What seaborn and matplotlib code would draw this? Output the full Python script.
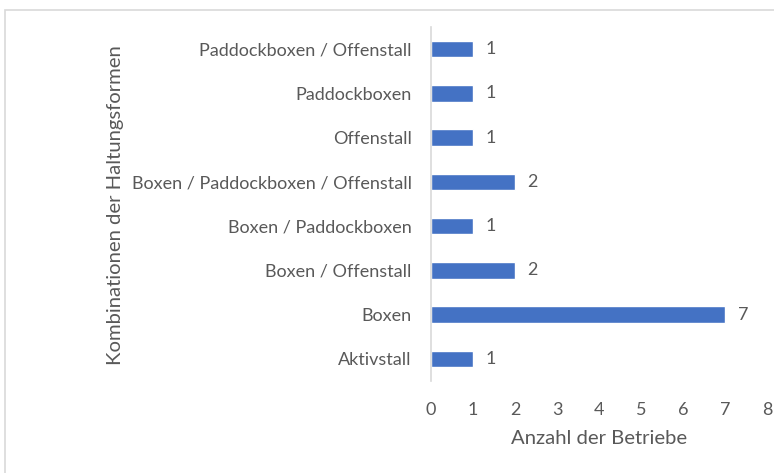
import matplotlib
matplotlib.use("Agg")
import matplotlib.pyplot as plt
import seaborn as sns
import pandas as pd
from matplotlib.patches import Rectangle

categories = ["Paddockboxen / Offenstall", "Paddockboxen", "Offenstall",
              "Boxen / Paddockboxen / Offenstall", "Boxen / Paddockboxen",
              "Boxen / Offenstall", "Boxen", "Aktivstall"]
values = [1, 1, 1, 2, 1, 2, 7, 1]
xticks = [0, 1, 2, 3, 4, 5, 6, 7, 8]

sns.set_theme(style="white")
plt.rcParams['font.family'] = ['Lato', 'DejaVu Sans']
txt = "#595959"
fs = 13
fs_title = 14.6

df = pd.DataFrame({"cat": categories, "val": values})
fig = plt.figure(figsize=(7.74, 4.73), dpi=100)
ax = fig.add_axes([0.557, 0.1945, 0.434, 0.7485])
sns.barplot(data=df, y="cat", x="val", order=categories, color="#4472C4",
            width=0.37, saturation=1, ax=ax)
ax.set_xlim(0, 8)
ax.set_xticks(xticks)
ax.set_xticklabels([str(t) for t in xticks])
for s in ["top", "right", "bottom"]:
    ax.spines[s].set_visible(False)
ax.spines["left"].set_color("#D9D9D9")
ax.spines["left"].set_linewidth(1.2)
ax.tick_params(axis="both", length=0, colors=txt, labelsize=fs)
ax.tick_params(axis="x", pad=15)
ax.tick_params(axis="y", pad=14)
for i, v in enumerate(values):
    ax.text(v + 0.3, i, str(v), va="center", ha="left", color=txt, fontsize=fs)
ax.set_xlabel("Anzahl der Betriebe", color=txt, fontsize=fs_title, labelpad=9)
ax.set_ylabel("")
fig.text(0.1486, 0.567, "Kombinationen der Haltungsformen", rotation=90,
         ha="center", va="center", color=txt, fontsize=fs_title)
fig.patches.append(Rectangle((5/774, -0.05), 1.0, 1 - 10/473 + 0.05,
                             transform=fig.transFigure, fill=False,
                             edgecolor="#D9D9D9", linewidth=1.2))
fig.savefig("out.png", dpi=100)
